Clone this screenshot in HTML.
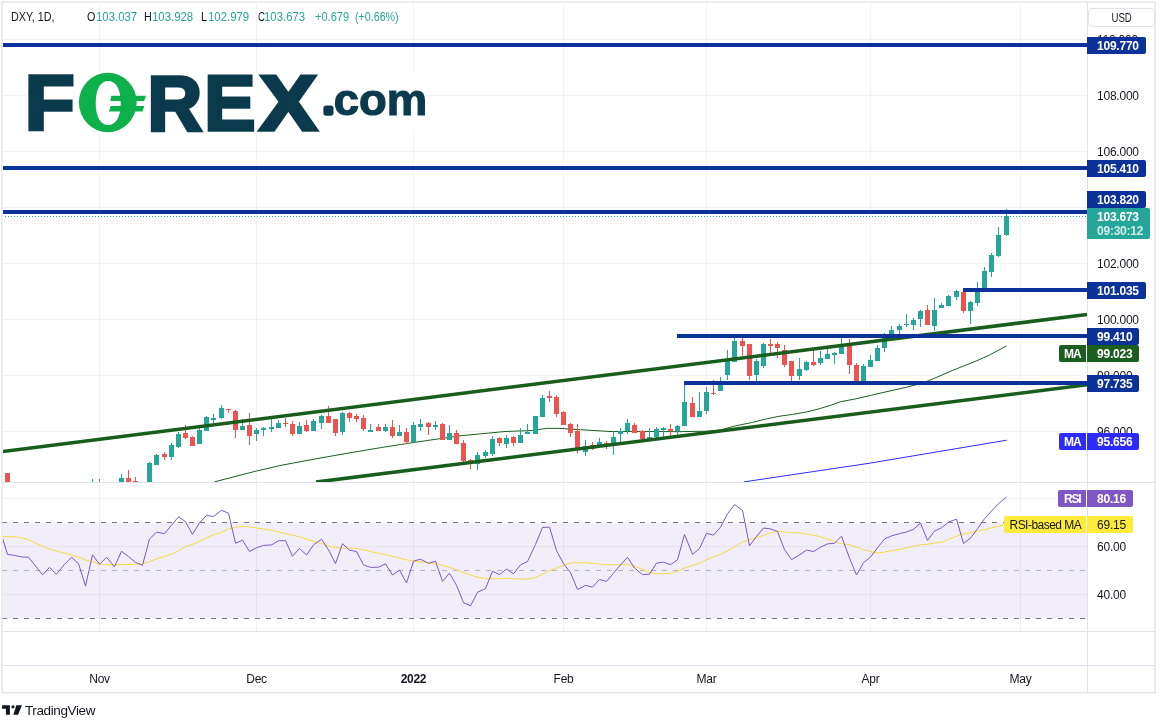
<!DOCTYPE html><html><head><meta charset="utf-8"><title>DXY chart</title><style>
html,body{margin:0;padding:0;background:#fff}
#c{position:relative;width:1165px;height:728px;overflow:hidden;will-change:transform;font-family:"Liberation Sans",sans-serif;color:#131722}
.t{position:absolute;white-space:nowrap;line-height:1}
.ax{font-size:12px;letter-spacing:-0.23px;left:1097px}
.lb{position:absolute;height:17px;border-radius:2px;color:#fff;font-weight:bold;font-size:12px;letter-spacing:-0.23px;line-height:18.6px;white-space:nowrap;box-sizing:border-box}
.tm{font-size:12px;letter-spacing:-0.3px;transform:translateX(-50%);top:673px}
.hd{font-size:12px;top:10.7px;transform-origin:0 0}
.hd.v{color:#26a69a}
</style></head><body><div id="c">
<svg width="1165" height="728" viewBox="0 0 1165 728" style="position:absolute;left:0;top:0">
<defs><clipPath id="cm"><rect x="3" y="3" width="1084" height="479"/></clipPath><clipPath id="cr"><rect x="3" y="483" width="1084" height="148"/></clipPath></defs>
<g stroke="rgba(42,46,57,0.06)" stroke-width="1" shape-rendering="crispEdges">
<line x1="99.5" y1="3" x2="99.5" y2="482"/>
<line x1="99.5" y1="483" x2="99.5" y2="631"/>
<line x1="256.5" y1="3" x2="256.5" y2="482"/>
<line x1="256.5" y1="483" x2="256.5" y2="631"/>
<line x1="413.5" y1="3" x2="413.5" y2="482"/>
<line x1="413.5" y1="483" x2="413.5" y2="631"/>
<line x1="563.5" y1="3" x2="563.5" y2="482"/>
<line x1="563.5" y1="483" x2="563.5" y2="631"/>
<line x1="706.5" y1="3" x2="706.5" y2="482"/>
<line x1="706.5" y1="483" x2="706.5" y2="631"/>
<line x1="870.5" y1="3" x2="870.5" y2="482"/>
<line x1="870.5" y1="483" x2="870.5" y2="631"/>
<line x1="1020.5" y1="3" x2="1020.5" y2="482"/>
<line x1="1020.5" y1="483" x2="1020.5" y2="631"/>
<line x1="3" y1="39.5" x2="1087" y2="39.5"/>
<line x1="3" y1="95.5" x2="1087" y2="95.5"/>
<line x1="3" y1="151.5" x2="1087" y2="151.5"/>
<line x1="3" y1="207.5" x2="1087" y2="207.5"/>
<line x1="3" y1="263.5" x2="1087" y2="263.5"/>
<line x1="3" y1="319.5" x2="1087" y2="319.5"/>
<line x1="3" y1="375.5" x2="1087" y2="375.5"/>
<line x1="3" y1="431.5" x2="1087" y2="431.5"/>
</g>
<rect x="3" y="522.5" width="1084" height="96" fill="#7e57c2" fill-opacity="0.1"/>
<g stroke="rgba(42,46,57,0.06)" stroke-width="1" shape-rendering="crispEdges">
<line x1="3" y1="498.5" x2="1087" y2="498.5"/>
<line x1="3" y1="546.5" x2="1087" y2="546.5"/>
<line x1="3" y1="594.5" x2="1087" y2="594.5"/>
</g>
<g stroke-width="1" fill="none" shape-rendering="crispEdges">
<line x1="2" y1="522.5" x2="1086" y2="522.5" stroke="#787b86" stroke-dasharray="5 6"/>
<line x1="2" y1="570.5" x2="1086" y2="570.5" stroke="#b2b5be" stroke-dasharray="5 6"/>
<line x1="2" y1="618.5" x2="1086" y2="618.5" stroke="#787b86" stroke-dasharray="5 6"/>
</g>
<g clip-path="url(#cm)">
<polyline points="214.6,481.8 256.5,471.0 281.7,465.2 300.0,461.8 310.0,459.9 344.2,453.8 380.3,447.7 413.5,442.5 458.2,436.0 505.0,431.5 532.4,430.5 546.2,428.4 559.9,428.4 580.5,429.7 610.0,431.5 641.0,431.4 677.0,431.7 707.0,431.2 720.6,430.0 734.3,426.1 751.5,422.6 765.2,419.2 779.0,416.3 792.7,414.4 806.4,412.0 820.2,408.5 830.5,405.3 840.8,401.7 854.5,399.1 871.7,395.2 880.0,393.2 892.0,390.5 904.0,387.8 916.1,384.8 928.1,380.9 940.1,375.8 952.1,370.6 964.1,365.8 976.2,361.0 988.2,355.6 1000.2,349.4 1006.4,346.0" fill="none" stroke="#1b5e20" stroke-width="1.0" stroke-linejoin="round" />
<polyline points="743.9,481.9 869.0,463.3 1006.6,440.2" fill="none" stroke="#2c2bf8" stroke-width="1.0" stroke-linejoin="round" />
</g>
<g clip-path="url(#cm)" shape-rendering="crispEdges">
<rect x="7.0" y="473" width="1" height="15" fill="#ef5350"/>
<rect x="5.0" y="473" width="5" height="15" fill="#ef5350"/>
<rect x="92.0" y="479" width="1" height="9" fill="#26a69a"/>
<rect x="90.0" y="484" width="5" height="4" fill="#26a69a"/>
<rect x="99.0" y="479" width="1" height="9" fill="#ef5350"/>
<rect x="97.0" y="484" width="5" height="4" fill="#ef5350"/>
<rect x="121.0" y="474" width="1" height="14" fill="#26a69a"/>
<rect x="119.0" y="478" width="5" height="10" fill="#26a69a"/>
<rect x="128.0" y="470" width="1" height="18" fill="#ef5350"/>
<rect x="126.0" y="478" width="5" height="10" fill="#ef5350"/>
<rect x="135.0" y="477" width="1" height="11" fill="#ef5350"/>
<rect x="133.0" y="481" width="5" height="7" fill="#ef5350"/>
<rect x="149.0" y="462" width="1" height="26" fill="#26a69a"/>
<rect x="147.0" y="463" width="5" height="25" fill="#26a69a"/>
<rect x="156.0" y="454" width="1" height="11" fill="#26a69a"/>
<rect x="154.0" y="455" width="5" height="10" fill="#26a69a"/>
<rect x="164.0" y="452" width="1" height="8" fill="#ef5350"/>
<rect x="162.0" y="454" width="5" height="3" fill="#ef5350"/>
<rect x="171.0" y="443" width="1" height="17" fill="#26a69a"/>
<rect x="169.0" y="445" width="5" height="12" fill="#26a69a"/>
<rect x="178.0" y="432" width="1" height="16" fill="#26a69a"/>
<rect x="176.0" y="434" width="5" height="13" fill="#26a69a"/>
<rect x="185.0" y="425" width="1" height="14" fill="#ef5350"/>
<rect x="183.0" y="433" width="5" height="5" fill="#ef5350"/>
<rect x="192.0" y="436" width="1" height="10" fill="#ef5350"/>
<rect x="190.0" y="437" width="5" height="9" fill="#ef5350"/>
<rect x="199.0" y="425" width="1" height="19" fill="#26a69a"/>
<rect x="197.0" y="430" width="5" height="14" fill="#26a69a"/>
<rect x="206.0" y="416" width="1" height="15" fill="#26a69a"/>
<rect x="204.0" y="417" width="5" height="14" fill="#26a69a"/>
<rect x="213.0" y="414" width="1" height="9" fill="#26a69a"/>
<rect x="211.0" y="418" width="5" height="2" fill="#26a69a"/>
<rect x="221.0" y="405" width="1" height="14" fill="#26a69a"/>
<rect x="219.0" y="408" width="5" height="10" fill="#26a69a"/>
<rect x="228.0" y="409" width="1" height="4" fill="#ef5350"/>
<rect x="226.0" y="409" width="5" height="1" fill="#ef5350"/>
<rect x="235.0" y="410" width="1" height="28" fill="#ef5350"/>
<rect x="233.0" y="411" width="5" height="19" fill="#ef5350"/>
<rect x="242.0" y="419" width="1" height="11" fill="#26a69a"/>
<rect x="240.0" y="426" width="5" height="4" fill="#26a69a"/>
<rect x="249.0" y="413" width="1" height="32" fill="#ef5350"/>
<rect x="247.0" y="425" width="5" height="11" fill="#ef5350"/>
<rect x="256.0" y="428" width="1" height="13" fill="#26a69a"/>
<rect x="254.0" y="430" width="5" height="4" fill="#26a69a"/>
<rect x="263.0" y="427" width="1" height="9" fill="#26a69a"/>
<rect x="261.0" y="428" width="5" height="2" fill="#26a69a"/>
<rect x="271.0" y="419" width="1" height="13" fill="#26a69a"/>
<rect x="269.0" y="427" width="5" height="2" fill="#26a69a"/>
<rect x="278.0" y="420" width="1" height="8" fill="#26a69a"/>
<rect x="276.0" y="423" width="5" height="5" fill="#26a69a"/>
<rect x="285.0" y="418" width="1" height="9" fill="#ef5350"/>
<rect x="283.0" y="423" width="5" height="1" fill="#ef5350"/>
<rect x="292.0" y="421" width="1" height="15" fill="#ef5350"/>
<rect x="290.0" y="424" width="5" height="10" fill="#ef5350"/>
<rect x="299.0" y="422" width="1" height="12" fill="#26a69a"/>
<rect x="297.0" y="426" width="5" height="8" fill="#26a69a"/>
<rect x="306.0" y="420" width="1" height="12" fill="#ef5350"/>
<rect x="304.0" y="425" width="5" height="6" fill="#ef5350"/>
<rect x="313.0" y="419" width="1" height="12" fill="#26a69a"/>
<rect x="311.0" y="421" width="5" height="10" fill="#26a69a"/>
<rect x="321.0" y="415" width="1" height="14" fill="#26a69a"/>
<rect x="319.0" y="416" width="5" height="7" fill="#26a69a"/>
<rect x="328.0" y="406" width="1" height="17" fill="#ef5350"/>
<rect x="326.0" y="416" width="5" height="7" fill="#ef5350"/>
<rect x="335.0" y="419" width="1" height="17" fill="#ef5350"/>
<rect x="333.0" y="419" width="5" height="14" fill="#ef5350"/>
<rect x="342.0" y="412" width="1" height="23" fill="#26a69a"/>
<rect x="340.0" y="413" width="5" height="19" fill="#26a69a"/>
<rect x="349.0" y="412" width="1" height="10" fill="#ef5350"/>
<rect x="347.0" y="413" width="5" height="5" fill="#ef5350"/>
<rect x="356.0" y="414" width="1" height="8" fill="#ef5350"/>
<rect x="354.0" y="416" width="5" height="3" fill="#ef5350"/>
<rect x="363.0" y="415" width="1" height="16" fill="#ef5350"/>
<rect x="361.0" y="418" width="5" height="11" fill="#ef5350"/>
<rect x="370.0" y="424" width="1" height="8" fill="#26a69a"/>
<rect x="368.0" y="430" width="5" height="2" fill="#26a69a"/>
<rect x="378.0" y="424" width="1" height="7" fill="#ef5350"/>
<rect x="376.0" y="427" width="5" height="4" fill="#ef5350"/>
<rect x="385.0" y="424" width="1" height="8" fill="#26a69a"/>
<rect x="383.0" y="427" width="5" height="4" fill="#26a69a"/>
<rect x="392.0" y="420" width="1" height="18" fill="#ef5350"/>
<rect x="390.0" y="427" width="5" height="9" fill="#ef5350"/>
<rect x="399.0" y="425" width="1" height="11" fill="#26a69a"/>
<rect x="397.0" y="432" width="5" height="4" fill="#26a69a"/>
<rect x="406.0" y="428" width="1" height="16" fill="#ef5350"/>
<rect x="404.0" y="432" width="5" height="10" fill="#ef5350"/>
<rect x="413.0" y="422" width="1" height="20" fill="#26a69a"/>
<rect x="411.0" y="425" width="5" height="17" fill="#26a69a"/>
<rect x="420.0" y="419" width="1" height="12" fill="#26a69a"/>
<rect x="418.0" y="424" width="5" height="3" fill="#26a69a"/>
<rect x="428.0" y="422" width="1" height="13" fill="#ef5350"/>
<rect x="426.0" y="423" width="5" height="4" fill="#ef5350"/>
<rect x="435.0" y="421" width="1" height="9" fill="#26a69a"/>
<rect x="433.0" y="425" width="5" height="2" fill="#26a69a"/>
<rect x="442.0" y="423" width="1" height="17" fill="#ef5350"/>
<rect x="440.0" y="424" width="5" height="16" fill="#ef5350"/>
<rect x="449.0" y="425" width="1" height="15" fill="#26a69a"/>
<rect x="447.0" y="433" width="5" height="7" fill="#26a69a"/>
<rect x="456.0" y="430" width="1" height="14" fill="#ef5350"/>
<rect x="454.0" y="433" width="5" height="11" fill="#ef5350"/>
<rect x="463.0" y="440" width="1" height="22" fill="#ef5350"/>
<rect x="461.0" y="443" width="5" height="18" fill="#ef5350"/>
<rect x="470.0" y="459" width="1" height="10" fill="#ef5350"/>
<rect x="468.0" y="460" width="5" height="1" fill="#ef5350"/>
<rect x="477.0" y="452" width="1" height="18" fill="#26a69a"/>
<rect x="475.0" y="455" width="5" height="9" fill="#26a69a"/>
<rect x="485.0" y="450" width="1" height="8" fill="#26a69a"/>
<rect x="483.0" y="452" width="5" height="4" fill="#26a69a"/>
<rect x="492.0" y="436" width="1" height="20" fill="#26a69a"/>
<rect x="490.0" y="439" width="5" height="15" fill="#26a69a"/>
<rect x="499.0" y="437" width="1" height="9" fill="#ef5350"/>
<rect x="497.0" y="438" width="5" height="5" fill="#ef5350"/>
<rect x="506.0" y="435" width="1" height="13" fill="#26a69a"/>
<rect x="504.0" y="438" width="5" height="6" fill="#26a69a"/>
<rect x="513.0" y="436" width="1" height="10" fill="#ef5350"/>
<rect x="511.0" y="437" width="5" height="6" fill="#ef5350"/>
<rect x="520.0" y="428" width="1" height="15" fill="#26a69a"/>
<rect x="518.0" y="435" width="5" height="8" fill="#26a69a"/>
<rect x="527.0" y="424" width="1" height="10" fill="#26a69a"/>
<rect x="525.0" y="432" width="5" height="2" fill="#26a69a"/>
<rect x="535.0" y="416" width="1" height="18" fill="#26a69a"/>
<rect x="533.0" y="416" width="5" height="18" fill="#26a69a"/>
<rect x="542.0" y="395" width="1" height="22" fill="#26a69a"/>
<rect x="540.0" y="398" width="5" height="19" fill="#26a69a"/>
<rect x="549.0" y="391" width="1" height="11" fill="#ef5350"/>
<rect x="547.0" y="396" width="5" height="2" fill="#ef5350"/>
<rect x="556.0" y="395" width="1" height="22" fill="#ef5350"/>
<rect x="554.0" y="397" width="5" height="17" fill="#ef5350"/>
<rect x="563.0" y="411" width="1" height="14" fill="#ef5350"/>
<rect x="561.0" y="412" width="5" height="13" fill="#ef5350"/>
<rect x="570.0" y="423" width="1" height="14" fill="#ef5350"/>
<rect x="568.0" y="424" width="5" height="9" fill="#ef5350"/>
<rect x="577.0" y="424" width="1" height="29" fill="#ef5350"/>
<rect x="575.0" y="431" width="5" height="17" fill="#ef5350"/>
<rect x="585.0" y="440" width="1" height="16" fill="#26a69a"/>
<rect x="583.0" y="446" width="5" height="6" fill="#26a69a"/>
<rect x="592.0" y="442" width="1" height="8" fill="#ef5350"/>
<rect x="590.0" y="445" width="5" height="4" fill="#ef5350"/>
<rect x="599.0" y="438" width="1" height="9" fill="#26a69a"/>
<rect x="597.0" y="442" width="5" height="5" fill="#26a69a"/>
<rect x="606.0" y="441" width="1" height="8" fill="#ef5350"/>
<rect x="604.0" y="443" width="5" height="1" fill="#ef5350"/>
<rect x="613.0" y="431" width="1" height="24" fill="#26a69a"/>
<rect x="611.0" y="437" width="5" height="6" fill="#26a69a"/>
<rect x="620.0" y="428" width="1" height="14" fill="#26a69a"/>
<rect x="618.0" y="431" width="5" height="3" fill="#26a69a"/>
<rect x="627.0" y="419" width="1" height="15" fill="#26a69a"/>
<rect x="625.0" y="423" width="5" height="8" fill="#26a69a"/>
<rect x="634.0" y="423" width="1" height="10" fill="#ef5350"/>
<rect x="632.0" y="425" width="5" height="8" fill="#ef5350"/>
<rect x="642.0" y="430" width="1" height="10" fill="#ef5350"/>
<rect x="640.0" y="431" width="5" height="8" fill="#ef5350"/>
<rect x="649.0" y="428" width="1" height="11" fill="#26a69a"/>
<rect x="647.0" y="437" width="5" height="2" fill="#26a69a"/>
<rect x="656.0" y="427" width="1" height="11" fill="#26a69a"/>
<rect x="654.0" y="429" width="5" height="8" fill="#26a69a"/>
<rect x="663.0" y="427" width="1" height="10" fill="#26a69a"/>
<rect x="661.0" y="428" width="5" height="2" fill="#26a69a"/>
<rect x="670.0" y="424" width="1" height="12" fill="#ef5350"/>
<rect x="668.0" y="429" width="5" height="2" fill="#ef5350"/>
<rect x="677.0" y="425" width="1" height="10" fill="#26a69a"/>
<rect x="675.0" y="426" width="5" height="5" fill="#26a69a"/>
<rect x="684.0" y="385" width="1" height="41" fill="#26a69a"/>
<rect x="682.0" y="402" width="5" height="24" fill="#26a69a"/>
<rect x="692.0" y="397" width="1" height="20" fill="#ef5350"/>
<rect x="690.0" y="403" width="5" height="14" fill="#ef5350"/>
<rect x="699.0" y="392" width="1" height="25" fill="#26a69a"/>
<rect x="697.0" y="411" width="5" height="6" fill="#26a69a"/>
<rect x="706.0" y="387" width="1" height="27" fill="#26a69a"/>
<rect x="704.0" y="392" width="5" height="19" fill="#26a69a"/>
<rect x="713.0" y="380" width="1" height="15" fill="#ef5350"/>
<rect x="711.0" y="393" width="5" height="1" fill="#ef5350"/>
<rect x="720.0" y="377" width="1" height="14" fill="#26a69a"/>
<rect x="718.0" y="385" width="5" height="6" fill="#26a69a"/>
<rect x="727.0" y="350" width="1" height="30" fill="#26a69a"/>
<rect x="725.0" y="361" width="5" height="14" fill="#26a69a"/>
<rect x="734.0" y="338" width="1" height="24" fill="#26a69a"/>
<rect x="732.0" y="341" width="5" height="21" fill="#26a69a"/>
<rect x="742.0" y="338" width="1" height="18" fill="#ef5350"/>
<rect x="740.0" y="341" width="5" height="5" fill="#ef5350"/>
<rect x="749.0" y="344" width="1" height="36" fill="#ef5350"/>
<rect x="747.0" y="344" width="5" height="32" fill="#ef5350"/>
<rect x="756.0" y="359" width="1" height="22" fill="#26a69a"/>
<rect x="754.0" y="361" width="5" height="14" fill="#26a69a"/>
<rect x="763.0" y="343" width="1" height="25" fill="#26a69a"/>
<rect x="761.0" y="344" width="5" height="22" fill="#26a69a"/>
<rect x="770.0" y="339" width="1" height="14" fill="#ef5350"/>
<rect x="768.0" y="344" width="5" height="2" fill="#ef5350"/>
<rect x="777.0" y="342" width="1" height="16" fill="#ef5350"/>
<rect x="775.0" y="344" width="5" height="4" fill="#ef5350"/>
<rect x="784.0" y="345" width="1" height="22" fill="#ef5350"/>
<rect x="782.0" y="350" width="5" height="15" fill="#ef5350"/>
<rect x="791.0" y="361" width="1" height="20" fill="#ef5350"/>
<rect x="789.0" y="361" width="5" height="15" fill="#ef5350"/>
<rect x="799.0" y="358" width="1" height="22" fill="#26a69a"/>
<rect x="797.0" y="369" width="5" height="7" fill="#26a69a"/>
<rect x="806.0" y="361" width="1" height="10" fill="#26a69a"/>
<rect x="804.0" y="362" width="5" height="8" fill="#26a69a"/>
<rect x="813.0" y="350" width="1" height="16" fill="#ef5350"/>
<rect x="811.0" y="362" width="5" height="3" fill="#ef5350"/>
<rect x="820.0" y="351" width="1" height="14" fill="#26a69a"/>
<rect x="818.0" y="358" width="5" height="5" fill="#26a69a"/>
<rect x="827.0" y="349" width="1" height="10" fill="#26a69a"/>
<rect x="825.0" y="354" width="5" height="5" fill="#26a69a"/>
<rect x="834.0" y="352" width="1" height="12" fill="#26a69a"/>
<rect x="832.0" y="353" width="5" height="2" fill="#26a69a"/>
<rect x="841.0" y="338" width="1" height="16" fill="#26a69a"/>
<rect x="839.0" y="346" width="5" height="8" fill="#26a69a"/>
<rect x="849.0" y="339" width="1" height="35" fill="#ef5350"/>
<rect x="847.0" y="345" width="5" height="20" fill="#ef5350"/>
<rect x="856.0" y="363" width="1" height="20" fill="#ef5350"/>
<rect x="854.0" y="365" width="5" height="18" fill="#ef5350"/>
<rect x="863.0" y="364" width="1" height="19" fill="#26a69a"/>
<rect x="861.0" y="366" width="5" height="17" fill="#26a69a"/>
<rect x="870.0" y="355" width="1" height="12" fill="#26a69a"/>
<rect x="868.0" y="360" width="5" height="7" fill="#26a69a"/>
<rect x="877.0" y="345" width="1" height="16" fill="#26a69a"/>
<rect x="875.0" y="348" width="5" height="13" fill="#26a69a"/>
<rect x="884.0" y="333" width="1" height="19" fill="#26a69a"/>
<rect x="882.0" y="338" width="5" height="10" fill="#26a69a"/>
<rect x="891.0" y="326" width="1" height="10" fill="#26a69a"/>
<rect x="889.0" y="330" width="5" height="6" fill="#26a69a"/>
<rect x="899.0" y="324" width="1" height="10" fill="#26a69a"/>
<rect x="897.0" y="326" width="5" height="4" fill="#26a69a"/>
<rect x="906.0" y="314" width="1" height="13" fill="#26a69a"/>
<rect x="904.0" y="324" width="5" height="1" fill="#26a69a"/>
<rect x="913.0" y="318" width="1" height="12" fill="#26a69a"/>
<rect x="911.0" y="320" width="5" height="5" fill="#26a69a"/>
<rect x="920.0" y="310" width="1" height="17" fill="#26a69a"/>
<rect x="918.0" y="311" width="5" height="8" fill="#26a69a"/>
<rect x="927.0" y="305" width="1" height="20" fill="#ef5350"/>
<rect x="925.0" y="310" width="5" height="15" fill="#ef5350"/>
<rect x="934.0" y="298" width="1" height="33" fill="#26a69a"/>
<rect x="932.0" y="310" width="5" height="16" fill="#26a69a"/>
<rect x="941.0" y="303" width="1" height="5" fill="#26a69a"/>
<rect x="939.0" y="305" width="5" height="3" fill="#26a69a"/>
<rect x="948.0" y="295" width="1" height="11" fill="#26a69a"/>
<rect x="946.0" y="296" width="5" height="10" fill="#26a69a"/>
<rect x="956.0" y="290" width="1" height="10" fill="#26a69a"/>
<rect x="954.0" y="291" width="5" height="6" fill="#26a69a"/>
<rect x="963.0" y="290" width="1" height="23" fill="#ef5350"/>
<rect x="961.0" y="292" width="5" height="19" fill="#ef5350"/>
<rect x="970.0" y="301" width="1" height="23" fill="#26a69a"/>
<rect x="968.0" y="302" width="5" height="9" fill="#26a69a"/>
<rect x="977.0" y="282" width="1" height="24" fill="#26a69a"/>
<rect x="975.0" y="288" width="5" height="15" fill="#26a69a"/>
<rect x="984.0" y="267" width="1" height="21" fill="#26a69a"/>
<rect x="982.0" y="271" width="5" height="17" fill="#26a69a"/>
<rect x="991.0" y="253" width="1" height="24" fill="#26a69a"/>
<rect x="989.0" y="255" width="5" height="17" fill="#26a69a"/>
<rect x="998.0" y="227" width="1" height="30" fill="#26a69a"/>
<rect x="996.0" y="235" width="5" height="21" fill="#26a69a"/>
<rect x="1006.0" y="209" width="1" height="27" fill="#26a69a"/>
<rect x="1004.0" y="216" width="5" height="19" fill="#26a69a"/>
</g>
<g clip-path="url(#cm)">
<line x1="3" y1="451.4" x2="1087" y2="314.4" stroke="#185c1e" stroke-width="3.5"/>
<line x1="316" y1="482.1" x2="1087" y2="384.7" stroke="#185c1e" stroke-width="3.5"/>
<line x1="2" y1="216.5" x2="1087" y2="216.5" stroke="#26a69a" stroke-width="1" stroke-dasharray="1 2" shape-rendering="crispEdges"/>
<rect x="3" y="43" width="1084" height="4" fill="#0c3299" shape-rendering="crispEdges"/>
<rect x="3" y="166" width="1084" height="4" fill="#0c3299" shape-rendering="crispEdges"/>
<rect x="3" y="210" width="1084" height="4" fill="#0c3299" shape-rendering="crispEdges"/>
<rect x="963" y="288" width="124" height="4" fill="#0c3299" shape-rendering="crispEdges"/>
<rect x="677" y="334" width="410" height="4" fill="#0c3299" shape-rendering="crispEdges"/>
<rect x="684" y="381" width="403" height="4" fill="#0c3299" shape-rendering="crispEdges"/>
</g>
<g clip-path="url(#cr)">
<polyline points="2.0,536.5 7.5,536.6 14.5,536.8 21.5,537.7 28.5,539.6 35.5,543.1 42.5,546.4 49.5,549.1 56.5,551.1 64.5,553.0 71.5,555.0 78.5,557.1 85.5,560.0 92.5,561.6 99.5,563.9 106.5,564.5 114.5,564.9 121.5,564.7 128.5,564.5 135.5,564.3 142.5,563.9 149.5,561.6 156.5,558.7 164.5,556.5 171.5,554.2 178.5,550.9 185.5,546.4 192.5,544.5 199.5,541.2 206.5,537.9 213.5,534.8 221.5,532.2 228.5,529.1 235.5,527.4 242.5,526.2 249.5,527.0 256.5,528.0 263.5,528.9 271.5,530.3 278.5,532.0 285.5,533.6 292.5,535.1 299.5,536.9 306.5,539.2 313.5,541.4 321.5,543.5 328.5,546.0 335.5,547.6 342.5,548.2 349.5,548.2 356.5,548.4 363.5,549.9 370.5,551.5 378.5,553.2 385.5,554.8 392.5,556.3 399.5,558.1 406.5,559.8 413.5,560.8 420.5,561.8 428.5,562.9 435.5,563.5 442.5,565.5 449.5,567.4 456.5,569.9 463.5,572.5 470.5,575.0 477.5,577.1 485.5,578.5 492.5,578.9 499.5,578.9 506.5,578.3 513.5,578.7 520.5,579.1 527.5,579.1 535.5,577.7 542.5,574.2 549.5,570.7 556.5,568.0 563.5,565.3 570.5,563.1 577.5,562.7 585.5,562.7 592.5,563.5 599.5,564.1 606.5,564.7 613.5,564.7 620.5,564.7 627.5,564.5 634.5,566.4 642.5,569.4 649.5,572.5 656.5,573.8 663.5,573.8 670.5,573.2 677.5,571.1 684.5,568.0 692.5,565.5 699.5,563.3 706.5,559.8 713.5,556.9 720.5,554.2 727.5,550.9 734.5,546.8 742.5,542.1 749.5,539.6 756.5,537.5 763.5,535.3 770.5,533.0 777.5,531.1 784.5,532.0 791.5,532.6 799.5,533.0 806.5,534.0 813.5,535.3 820.5,536.7 827.5,539.0 834.5,541.6 841.5,543.7 849.5,544.7 856.5,547.2 863.5,549.5 870.5,551.5 877.5,553.0 884.5,552.1 891.5,550.7 899.5,549.3 906.5,547.8 913.5,546.4 920.5,544.9 927.5,544.3 934.5,543.0 941.5,542.2 948.5,539.4 956.5,536.1 963.5,533.9 970.5,532.8 977.5,531.1 984.5,529.5 991.5,527.8 998.5,526.2 1006.5,524.2" fill="none" stroke="#f3da45" stroke-width="1.0" stroke-linejoin="round" />
<polyline points="2.0,536.5 7.5,554.4 14.5,555.4 21.5,556.9 28.5,557.3 35.5,565.9 42.5,574.8 49.5,567.4 56.5,574.2 64.5,564.3 71.5,557.3 78.5,563.5 85.5,586.1 92.5,554.8 99.5,564.3 106.5,557.3 114.5,566.8 121.5,551.3 128.5,556.5 135.5,562.4 142.5,565.3 149.5,539.0 156.5,532.2 164.5,533.6 171.5,525.2 178.5,516.9 185.5,521.7 192.5,534.4 199.5,522.7 206.5,515.5 213.5,516.5 221.5,510.3 228.5,513.2 235.5,543.3 242.5,540.2 249.5,551.5 256.5,547.8 263.5,545.4 271.5,544.9 278.5,540.8 285.5,540.6 292.5,556.3 299.5,548.4 306.5,555.0 313.5,544.9 321.5,539.2 328.5,549.9 335.5,563.7 342.5,543.7 349.5,550.1 356.5,551.5 363.5,564.9 370.5,567.4 378.5,567.2 385.5,563.9 392.5,575.0 399.5,570.1 406.5,583.0 413.5,561.2 420.5,559.2 428.5,563.3 435.5,561.2 442.5,581.4 449.5,573.2 456.5,585.3 463.5,602.6 470.5,605.9 477.5,592.3 485.5,588.6 492.5,571.3 499.5,574.6 506.5,569.0 513.5,573.8 520.5,564.9 527.5,561.4 535.5,544.5 542.5,527.4 549.5,527.2 556.5,550.5 563.5,563.7 570.5,572.5 577.5,589.6 585.5,585.3 592.5,587.2 599.5,579.5 606.5,581.4 613.5,573.2 620.5,564.9 627.5,557.3 634.5,568.0 642.5,574.6 649.5,574.2 656.5,563.1 663.5,562.2 670.5,564.7 677.5,559.8 684.5,534.4 692.5,554.4 699.5,548.6 706.5,533.4 713.5,535.1 720.5,527.2 727.5,513.8 734.5,504.6 742.5,510.3 749.5,545.8 756.5,536.5 763.5,528.0 770.5,528.9 777.5,531.5 784.5,549.5 791.5,559.6 799.5,555.0 806.5,550.1 813.5,551.5 820.5,547.2 827.5,543.9 834.5,543.3 841.5,536.1 849.5,558.1 856.5,575.0 863.5,562.7 870.5,557.1 877.5,547.8 884.5,539.0 891.5,535.9 899.5,533.6 906.5,532.0 913.5,529.3 920.5,523.1 927.5,540.4 934.5,531.1 941.5,527.8 948.5,522.1 956.5,519.1 963.5,543.5 970.5,538.2 977.5,528.7 984.5,518.8 991.5,511.0 998.5,503.6 1006.5,497.0" fill="none" stroke="#7e57c2" stroke-width="1.0" stroke-linejoin="round" />
</g>
<g fill="none" stroke="#e0e3eb" shape-rendering="crispEdges">
<rect x="1.95" y="1.95" width="1153.2" height="690.8" stroke-width="1.3" shape-rendering="auto"/>
<line x1="3" y1="482.5" x2="1154.5" y2="482.5"/>
<line x1="3" y1="631.5" x2="1154.5" y2="631.5"/>
<line x1="3" y1="665.5" x2="1154.5" y2="665.5"/>
<line x1="1087.5" y1="3" x2="1087.5" y2="693"/>
</g>
<g fill="#131722"><path d="M2.1 705.2H9.9V714.8H5.9V708.7H2.1Z"/><circle cx="12.95" cy="706.85" r="1.6"/><path d="M16.3 705.2H21.9L18.1 714.8H13.3Z"/></g>
<rect x="27" y="72.5" width="399" height="59.8" fill="#fff"/>
<g font-family="Liberation Sans, sans-serif" font-weight="bold">
<text transform="translate(24.7,129.55) scale(1.056,1)" x="0" y="0" font-size="77.3" fill="#0b3a4d" stroke="#0b3a4d" stroke-width="3.5" stroke-linejoin="miter">F</text>
<text transform="translate(147.5,129.55) scale(0.978,1)" x="0" y="0" font-size="77.3" fill="#0b3a4d" stroke="#0b3a4d" stroke-width="3.5" stroke-linejoin="miter">R</text>
<text transform="translate(204.2,129.55) scale(0.992,1)" x="0" y="0" font-size="77.3" fill="#0b3a4d" stroke="#0b3a4d" stroke-width="3.5" stroke-linejoin="miter">E</text>
<text transform="translate(259.5,129.55) scale(1.118,1)" x="0" y="0" font-size="77.3" fill="#0b3a4d" stroke="#0b3a4d" stroke-width="3.5" stroke-linejoin="miter">X</text>
<text x="77.3" y="128.9" font-size="78" font-weight="normal" fill="#0db14b" transform="translate(0,0)">O</text>
<text x="323.9" y="113" font-size="32" fill="#0b3a4d" stroke="#0b3a4d" stroke-width="5.6" stroke-linejoin="round">.</text>
<text x="333.8" y="115.2" font-size="44.5" fill="#0b3a4d" stroke="#0b3a4d" stroke-width="1.2" textLength="93.5" lengthAdjust="spacingAndGlyphs">com</text>
</g>
<path fill="#0db14b" d="M78.9 102.45A28.9 29.75 0 1 0 136.7 102.45A28.9 29.75 0 1 0 78.9 102.45Z"/>
<path fill="#fff" d="M95.7 103.05C95.7 88.53 100.7 81.05 108.2 81.05C115.7 81.05 120.7 88.53 120.7 103.05C120.7 117.57 115.7 125.05 108.2 125.05C100.7 125.05 95.7 117.57 95.7 103.05Z"/>
<g fill="#0db14b"><path d="M111.3 95.8H145.9L144.2 100.9H110.2Z"/><path d="M110.6 106.1H144.2L142.6 111.4H109Z"/></g>
</svg>
<div class="t hd" style="left:10.5px;transform:scaleX(0.897)">DXY, 1D,</div>
<div class="t hd" style="left:87.0px;transform:scaleX(0.9)">O</div>
<div class="t hd v" style="left:96.3px;transform:scaleX(0.948)">103.037</div>
<div class="t hd" style="left:144.4px;transform:scaleX(0.9)">H</div>
<div class="t hd v" style="left:152.2px;transform:scaleX(0.948)">103.928</div>
<div class="t hd" style="left:201.4px;transform:scaleX(0.9)">L</div>
<div class="t hd v" style="left:208.0px;transform:scaleX(0.948)">102.979</div>
<div class="t hd" style="left:257.8px;transform:scaleX(0.8)">C</div>
<div class="t hd v" style="left:264.1px;transform:scaleX(0.948)">103.673</div>
<div class="t hd v" style="left:314.5px;transform:scaleX(0.92)">+0.679</div>
<div class="t hd v" style="left:354.5px;transform:scaleX(0.891)">(+0.66%)</div>
<div class="t ax" style="top:33.9px">110.000</div>
<div class="t ax" style="top:89.9px">108.000</div>
<div class="t ax" style="top:145.9px">106.000</div>
<div class="t ax" style="top:201.9px">104.000</div>
<div class="t ax" style="top:257.9px">102.000</div>
<div class="t ax" style="top:313.9px">100.000</div>
<div class="t ax" style="top:369.9px">98.000</div>
<div class="t ax" style="top:425.9px">96.000</div>
<div class="t ax" style="top:540.9px;left:1097px">60.00</div>
<div class="t ax" style="top:588.9px;left:1097px">40.00</div>
<div style="position:absolute;left:1087.5px;top:7.7px;width:65.5px;height:17.4px;border:1px solid #e0e3eb;border-radius:4px;background:#fff;font-size:12px;line-height:18px;text-align:center"><span style="display:inline-block;transform:scaleX(.8)">USD</span></div>
<div class="lb" style="left:1087px;top:37px;width:59px;height:17px;background:#0c3299;color:#fff;padding-left:10px;border-radius:0 2px 2px 0;">109.770</div>
<div class="lb" style="left:1087px;top:160px;width:59px;height:17px;background:#0c3299;color:#fff;padding-left:10px;border-radius:0 2px 2px 0;">105.410</div>
<div class="lb" style="left:1087px;top:191px;width:59px;height:17px;background:#0c3299;color:#fff;padding-left:10px;border-radius:0 2px 2px 0;">103.820</div>
<div class="lb" style="left:1087px;top:282px;width:59px;height:17px;background:#0c3299;color:#fff;padding-left:10px;border-radius:0 2px 2px 0;">101.035</div>
<div class="lb" style="left:1087px;top:328px;width:52px;height:17px;background:#0c3299;color:#fff;padding-left:10px;border-radius:0 2px 2px 0;">99.410</div>
<div class="lb" style="left:1087px;top:375px;width:52px;height:17px;background:#0c3299;color:#fff;padding-left:10px;border-radius:0 2px 2px 0;">97.735</div>
<div class="lb" style="left:1087px;top:208px;width:63px;height:31px;background:#26a69a;padding-left:10px;border-radius:0 2px 2px 0;line-height:14px;padding-top:2px">103.673<br><span style="opacity:.78">09:30:12</span></div>
<div class="lb" style="left:1059px;top:345px;width:27px;height:17px;background:#1b5e20;color:#fff;padding-left:5px;border-radius:2px 0 0 2px;letter-spacing:-0.9px;">MA</div>
<div class="lb" style="left:1087px;top:345px;width:51.5px;height:17px;background:#1b5e20;color:#fff;padding-left:10px;border-radius:0 2px 2px 0;">99.023</div>
<div class="lb" style="left:1059px;top:433px;width:27px;height:17px;background:#2c2bf8;color:#fff;padding-left:5px;border-radius:2px 0 0 2px;letter-spacing:-0.9px;">MA</div>
<div class="lb" style="left:1087px;top:433px;width:51.5px;height:17px;background:#2c2bf8;color:#fff;padding-left:10px;border-radius:0 2px 2px 0;">95.656</div>
<div class="lb" style="left:1058px;top:490px;width:28px;height:17px;background:#7e57c2;color:#fff;padding-left:6px;letter-spacing:-1.2px;border-radius:2px 0 0 2px;">RSI</div>
<div class="lb" style="left:1087px;top:490px;width:46px;height:17px;background:#7e57c2;color:#fff;padding-left:10px;border-radius:0 2px 2px 0;">80.16</div>
<div class="lb" style="left:1004px;top:516px;width:82px;height:17px;background:#ffeb3b;color:#131722;padding-left:5.5px;letter-spacing:-0.53px;border-radius:2px 0 0 2px;font-weight:normal;">RSI-based MA</div>
<div class="lb" style="left:1087px;top:516px;width:46px;height:17px;background:#ffeb3b;color:#131722;padding-left:10px;border-radius:0 2px 2px 0;font-weight:normal;">69.15</div>
<div class="t tm" style="left:99.5px">Nov</div>
<div class="t tm" style="left:256.5px">Dec</div>
<div class="t tm" style="left:413.5px"><b>2022</b></div>
<div class="t tm" style="left:563.5px">Feb</div>
<div class="t tm" style="left:706.5px">Mar</div>
<div class="t tm" style="left:870.5px">Apr</div>
<div class="t tm" style="left:1020.5px">May</div>
<div class="t" style="left:25px;top:703.5px;font-size:13.5px;letter-spacing:-0.38px">TradingView</div>
</div></body></html>
